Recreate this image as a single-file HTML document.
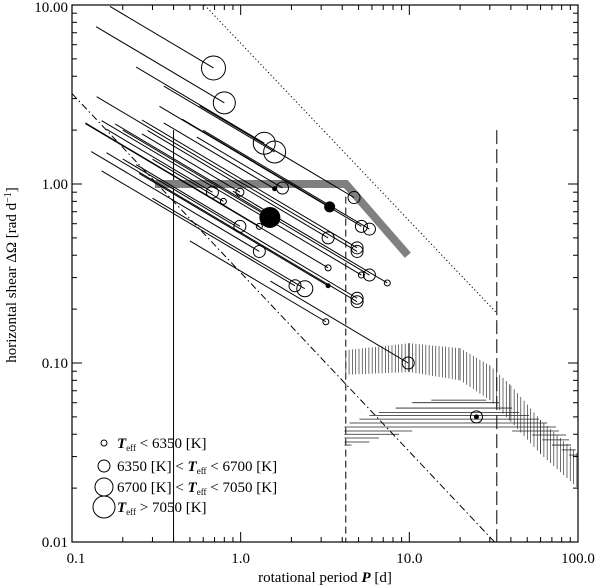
<!DOCTYPE html>
<html><head><meta charset="utf-8"><style>
body{margin:0;background:#fff}
svg{display:block;font-family:"Liberation Serif",serif}
</style></head><body>
<svg id="chart" width="600" height="587" viewBox="0 0 600 587">
<g id="marks"></g>
<rect x="72" y="5" width="506" height="537" fill="none" stroke="#000" stroke-width="1.2"/>
<g id="ticks"></g>
<text x="325" y="582" font-size="15" text-anchor="middle">rotational period <tspan font-weight="bold" font-style="italic">P</tspan> [d]</text>
<text transform="translate(16,275) rotate(-90)" font-size="15" text-anchor="middle">horizontal shear ΔΩ [rad d<tspan baseline-shift="super" font-size="10">−1</tspan>]</text>
<g font-size="15">
<circle cx="104" cy="443" r="3" fill="none" stroke="#000"/>
<text x="117" y="448"><tspan font-weight="bold" font-style="italic">T</tspan><tspan font-size="9" dy="3">eff</tspan><tspan dy="-3"> &lt; 6350 [K]</tspan></text>
<circle cx="104" cy="466" r="6" fill="none" stroke="#000"/>
<text x="117" y="471">6350 [K] &lt; <tspan font-weight="bold" font-style="italic">T</tspan><tspan font-size="9" dy="3">eff</tspan><tspan dy="-3"> &lt; 6700 [K]</tspan></text>
<circle cx="104" cy="487" r="9" fill="none" stroke="#000"/>
<text x="117" y="492">6700 [K] &lt; <tspan font-weight="bold" font-style="italic">T</tspan><tspan font-size="9" dy="3">eff</tspan><tspan dy="-3"> &lt; 7050 [K]</tspan></text>
<circle cx="104" cy="507" r="11" fill="none" stroke="#000"/>
<text x="117" y="512"><tspan font-weight="bold" font-style="italic">T</tspan><tspan font-size="9" dy="3">eff</tspan><tspan dy="-3"> &gt; 7050 [K]</tspan></text>
</g>
</svg>
<script>
const xTicks=[0.1,1,10,100];
const xTickLabels=["0.1","1.0","10.0","100.0"];
const yTicks=[0.01,0.1,1,10];
const yTickLabels=["0.01","0.10","1.00","10.00"];
const starP=[0.69,0.80,1.38,1.59,4.7,1.49,3.37,1.59,1.77,0.68,0.99,0.79,0.99,1.29,5.2,5.8,3.3,4.9,4.9,1.29,3.3,5.2,5.8,7.4,2.1,2.4,3.3,4.9,4.9,3.2,9.85];
const starOmega=[4.45,2.84,1.69,1.51,0.84,0.65,0.745,0.94,0.95,0.90,0.90,0.80,0.58,0.58,0.58,0.56,0.50,0.44,0.42,0.42,0.34,0.31,0.31,0.28,0.27,0.26,0.27,0.23,0.22,0.17,0.10];
const starSize=[12,11,11,11,6,10,5,2,6,6,4,3,6,3,6,6,6,6,6,6,3,3,6,3,6,8,2,6,6,3,6];
const starFilled=[0,0,0,0,0,1,1,1,0,0,0,0,0,0,0,0,0,0,0,0,0,0,0,0,0,0,1,0,0,0,0];
const lineStartP=[0.168,0.139,0.24,0.35,0.57,0.20,0.45,0.35,0.55,0.16,0.26,0.30,0.24,0.12,0.33,0.6,0.28,0.26,0.14,0.13,0.12,0.15,0.18,0.9,0.15,0.3,0.25,0.2,0.16,0.5,1.5];
const sunP=25, sunOmega=0.05;
const grayP=[0.31,4.2,9.8];
const grayOmega=[1.0,1.0,0.40];
const bandP=[4.2,10,20,30,40,60,100];
const bandHi=[0.118,0.129,0.121,0.097,0.075,0.048,0.031];
const bandLo=[0.086,0.089,0.080,0.062,0.047,0.031,0.020];
const hOmega=[0.062,0.060,0.056,0.053,0.051,0.0486,0.0462,0.0439,0.0417,0.040,0.0381,0.0362,0.0348,0.0417,0.0396,0.0372,0.0348,0.0327,0.0306];
const hP0=[13.5,10.4,8.3,6.6,5.8,5.06,4.42,4.12,4.12,4.12,4.12,4.12,4.12,40.7,53.5,61.3,70,80,88.5];
const hP1=[28.6,34,40.7,44.8,51.3,58.7,65.6,74,10.4,8.7,6.6,5.8,4.54,77,85,88.5,91,97,99];

const L=72,R=578,T=5,B=542;
const X=p=>L+(R-L)*(Math.log10(p)+1)/3;
const Y=v=>B-(B-T)*(Math.log10(v)+2)/3;
const NS="http://www.w3.org/2000/svg";
const marks=document.getElementById('marks'), ticks=document.getElementById('ticks');
function mk(tag,attrs,parent){const e=document.createElementNS(NS,tag);for(const k in attrs)e.setAttribute(k,attrs[k]);parent.appendChild(e);return e;}

let e;
e=mk('line',{x1:X(0.1),y1:Y(3.2),x2:X(32),y2:Y(0.01),stroke:'#000','stroke-width':1,'stroke-dasharray':'7 3 1.5 3'},marks);


e=mk('line',{x1:X(0.61),y1:Y(10),x2:X(33),y2:Y(0.19),stroke:'#000','stroke-width':1,'stroke-dasharray':'1.2 2.5'},marks);


e=mk('line',{x1:X(0.4),y1:Y(2.0),x2:X(0.4),y2:B,stroke:'#000','stroke-width':1},marks);


e=mk('line',{x1:X(4.2),y1:Y(0.85),x2:X(4.2),y2:B,stroke:'#000','stroke-width':1,'stroke-dasharray':'7 4'},marks);


e=mk('line',{x1:X(33),y1:Y(2.0),x2:X(33),y2:B,stroke:'#000','stroke-width':1,'stroke-dasharray':'14 5'},marks);



e=mk('polyline',{points:grayP.map((p,i)=>X(p)+','+Y(grayOmega[i])).join(' '),fill:'none',stroke:'#808080','stroke-width':8},marks);



const bg=mk('g',{stroke:'#333','stroke-width':0.7},marks);


for(let i=0;i<bandP.length-1;i++){
  const x0=X(bandP[i]),x1=X(bandP[i+1]);
  for(let x=x0;x<x1;x+=3.3){
    const t=(x-x0)/(x1-x0);
    const yh=Y(bandHi[i])+t*(Y(bandHi[i+1])-Y(bandHi[i]));
    const yl=Y(bandLo[i])+t*(Y(bandLo[i+1])-Y(bandLo[i]));
    mk('line',{x1:x,y1:yh,x2:x,y2:yl},bg);
  }
}
const hg=mk('g',{stroke:'#222','stroke-width':0.8},marks);


hOmega.forEach((o,i)=>{mk('line',{x1:X(hP0[i]),y1:Y(o),x2:X(hP1[i]),y2:Y(o)},hg);});

starP.forEach((p,i)=>{
  const p0=lineStartP[i], o0=starOmega[i]*Math.pow(p0/p,-0.56);
  const ln=mk('line',{x1:X(p0),y1:Y(o0),x2:X(p),y2:Y(starOmega[i]),stroke:'#000','stroke-width':1},marks);
  
  
});
starP.forEach((p,i)=>{
  const c=mk('circle',{cx:X(p),cy:Y(starOmega[i]),r:starSize[i],fill:starFilled[i]?'#000':'none',stroke:'#000','stroke-width':1},marks);
  
  
});
e=mk('circle',{cx:X(sunP),cy:Y(sunOmega),r:6,fill:'none',stroke:'#000'},marks);


e=mk('circle',{cx:X(sunP),cy:Y(sunOmega),r:2.5,fill:'#000'},marks);



for(let d=-1;d<2;d++)for(let m=1;m<10;m++){
  const x=X(m*Math.pow(10,d)),len=m===1?10:5;
  mk('line',{x1:x,y1:B,x2:x,y2:B-len,stroke:'#000'},ticks);
  mk('line',{x1:x,y1:T,x2:x,y2:T+len,stroke:'#000'},ticks);
}
for(let d=-2;d<1;d++)for(let m=1;m<10;m++){
  const y=Y(m*Math.pow(10,d)),len=m===1?10:5;
  mk('line',{x1:L,y1:y,x2:L+len,y2:y,stroke:'#000'},ticks);
  mk('line',{x1:R,y1:y,x2:R-len,y2:y,stroke:'#000'},ticks);
}
xTicks.forEach((v,i)=>{
  const t=mk('text',{x:X(v)+(i===0?4:0),y:563,'font-size':15,'text-anchor':'middle'},ticks);
  t.textContent=xTickLabels[i];
  
  
});
yTicks.forEach((v,i)=>{
  const t=mk('text',{x:68,y:Y(v)+(i===3?7:5),'font-size':15,'text-anchor':'end'},ticks);
  t.textContent=yTickLabels[i];
  
  
});
</script>
</body></html>
